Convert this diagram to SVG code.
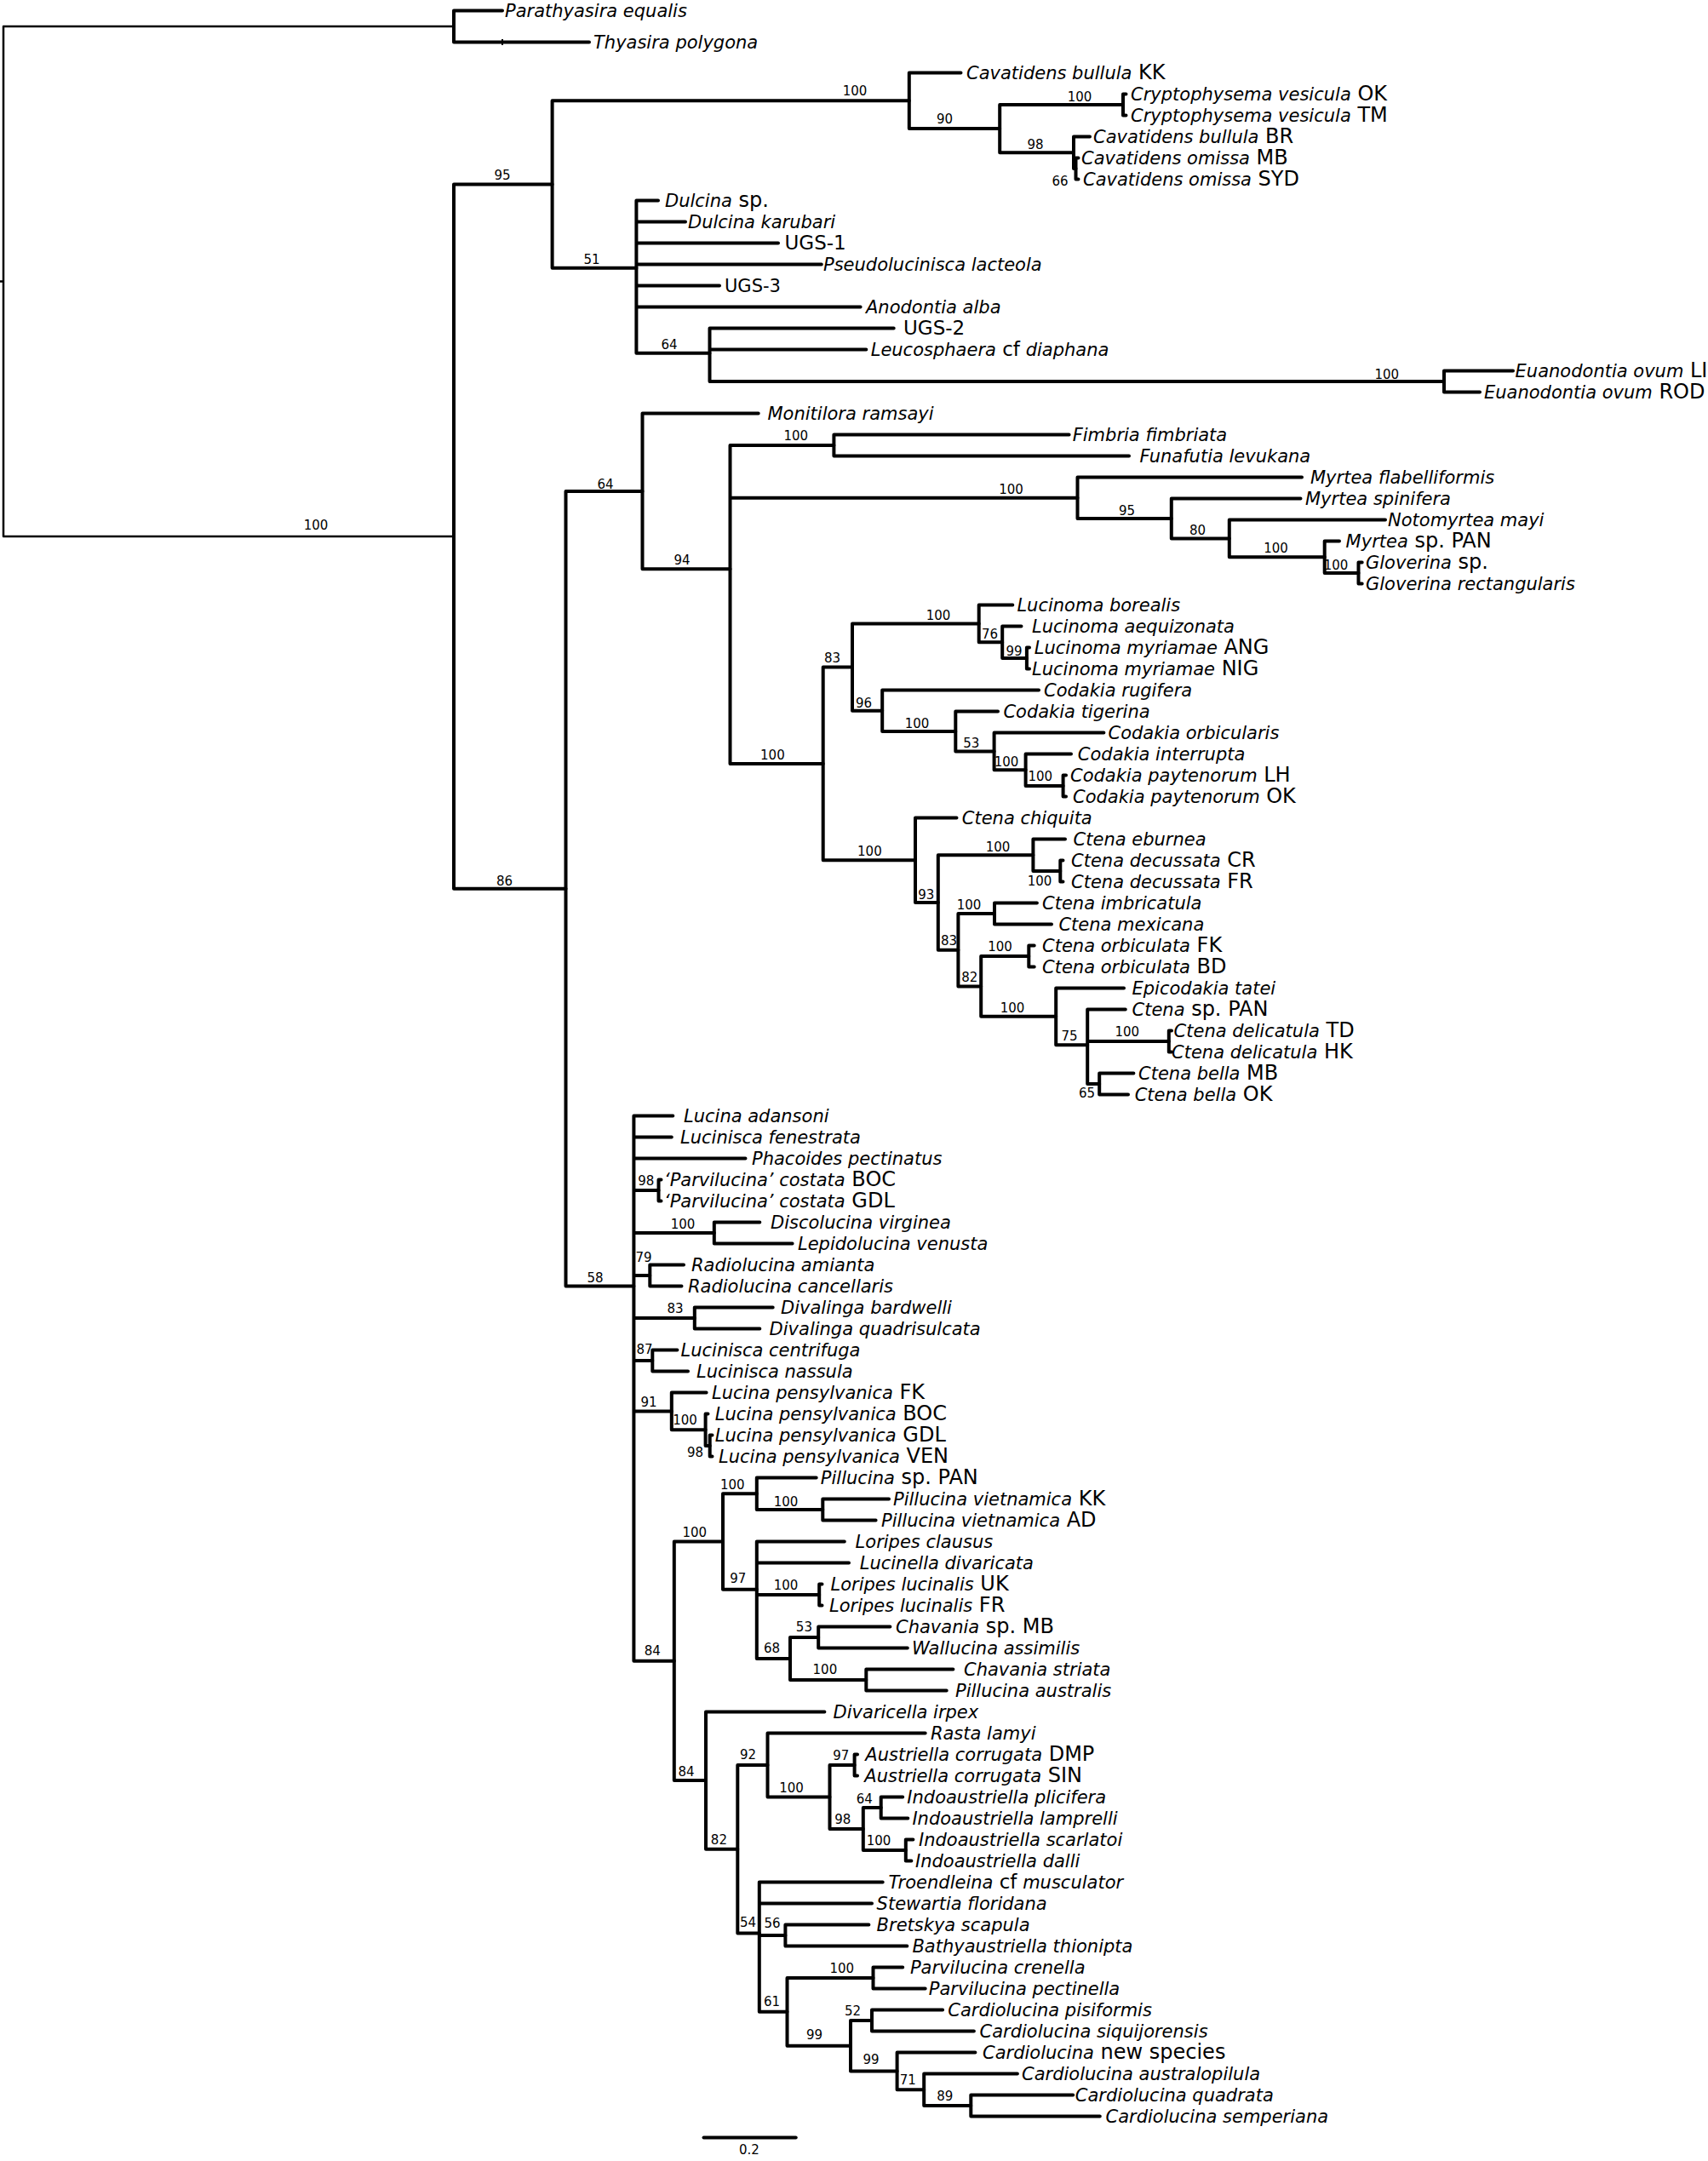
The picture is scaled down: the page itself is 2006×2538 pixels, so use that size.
<svg xmlns="http://www.w3.org/2000/svg" width="2006" height="2538" viewBox="0 0 2006 2538">
<style>
.b{fill:none;stroke:#000;stroke-width:4;stroke-linecap:round;stroke-linejoin:round}
.thin{stroke-width:2.5}
.tk{fill:none;stroke:#000;stroke-width:2}
text{font-family:"DejaVu Sans","Noto Sans",sans-serif;fill:#000}
.t{font-size:21px;font-style:italic}
.c{font-size:24px;font-style:normal}
.u{font-size:23px;font-style:normal}
.u3{font-size:21px;font-style:normal}
.s{font-size:15px;text-anchor:middle}
</style>
<rect width="2006" height="2538" fill="#fff"/>
<g id="connectors" class="b">
<path class="thin" d="M4 31V630.1M4 31H533M4 630.1H533M0 330.5H4"/>
<path d="M533 12.5V49.5M533 12.5H590M533 49.5H692"/>
<path d="M533 216.5V1043.7M533 216.5H648.6M533 1043.7H664.5"/>
<path d="M648.6 118.3V314.7M648.6 118.3H1067.8M648.6 314.7H747.4"/>
<path d="M1067.8 85.5V151.1M1067.8 85.5H1128.5M1067.8 151.1H1174.2"/>
<path d="M1174.2 123V179.3M1174.2 123H1319M1174.2 179.3H1261"/>
<path d="M1319 110.5V135.5M1319 110.5H1322.5M1319 135.5H1322.5"/>
<path d="M1261 160.5V198M1261 160.5H1280M1261 198H1263.5"/>
<path d="M1263.5 185.5V210.5M1263.5 185.5H1266.5M1263.5 210.5H1266.5"/>
<path d="M747.4 235.5V414.7M747.4 235.5H773M747.4 260.5H805M747.4 285.5H914M747.4 310.5H964.8M747.4 335.5H845M747.4 360.5H1010.6M747.4 414.7H833.5"/>
<path d="M833.5 385.5V448M833.5 385.5H1049.7M833.5 410.5H1017.3M833.5 448H1696"/>
<path d="M1696 435.5V460.5M1696 435.5H1777M1696 460.5H1738"/>
<path d="M664.5 576.9V1510.5M664.5 576.9H754.5M664.5 1510.5H744.4"/>
<path d="M754.5 485.5V668.2M754.5 485.5H890.7M754.5 668.2H857.5"/>
<path d="M857.5 523V896.9M857.5 523H979.4M857.5 584.7H1265.5M857.5 896.9H966.7"/>
<path d="M979.4 510.5V535.5M979.4 510.5H1255.6M979.4 535.5H1326"/>
<path d="M1265.5 560.5V608.9M1265.5 560.5H1529M1265.5 608.9H1375.8"/>
<path d="M1375.8 585.5V632.4M1375.8 585.5H1527.5M1375.8 632.4H1443.8"/>
<path d="M1443.8 610.5V654.3M1443.8 610.5H1627M1443.8 654.3H1555.7"/>
<path d="M1555.7 635.5V673M1555.7 635.5H1573M1555.7 673H1595.5"/>
<path d="M1595.5 660.5V685.5M1595.5 660.5H1599.7M1595.5 685.5H1599.7"/>
<path d="M966.7 783.5V1010.2M966.7 783.5H1001M966.7 1010.2H1075"/>
<path d="M1001 732.4V834.7M1001 732.4H1149.7M1001 834.7H1036.2"/>
<path d="M1149.7 710.5V754.3M1149.7 710.5H1189.3M1149.7 754.3H1177.2"/>
<path d="M1177.2 735.5V773M1177.2 735.5H1199.5M1177.2 773H1205.9"/>
<path d="M1205.9 760.5V785.5M1205.9 760.5H1209M1205.9 785.5H1209"/>
<path d="M1036.2 810.5V858.9M1036.2 810.5H1220M1036.2 858.9H1122.3"/>
<path d="M1122.3 835.5V882.4M1122.3 835.5H1172M1122.3 882.4H1167.6"/>
<path d="M1167.6 860.5V904.3M1167.6 860.5H1296.4M1167.6 904.3H1204.6"/>
<path d="M1204.6 885.5V923M1204.6 885.5H1258M1204.6 923H1248.6"/>
<path d="M1248.6 910.5V935.5M1248.6 910.5H1252M1248.6 935.5H1252"/>
<path d="M1075 960.5V1060M1075 960.5H1123.5M1075 1060H1101.8"/>
<path d="M1101.8 1004.3V1115.7M1101.8 1004.3H1213.4M1101.8 1115.7H1125.4"/>
<path d="M1213.4 985.5V1023M1213.4 985.5H1251M1213.4 1023H1245.3"/>
<path d="M1245.3 1010.5V1035.5M1245.3 1010.5H1248.5M1245.3 1035.5H1248.5"/>
<path d="M1125.4 1073V1158.4M1125.4 1073H1168M1125.4 1158.4H1152.2"/>
<path d="M1168 1060.5V1085.5M1168 1060.5H1217.9M1168 1085.5H1235"/>
<path d="M1152.2 1123V1193.8M1152.2 1123H1208.3M1152.2 1193.8H1240.2"/>
<path d="M1208.3 1110.5V1135.5M1208.3 1110.5H1214.7M1208.3 1135.5H1214.7"/>
<path d="M1240.2 1160.5V1227.2M1240.2 1160.5H1320M1240.2 1227.2H1277.2"/>
<path d="M1277.2 1185.5V1273M1277.2 1185.5H1321.8M1277.2 1223H1372.8M1277.2 1273H1291.2"/>
<path d="M1372.8 1210.5V1235.5M1372.8 1210.5H1376M1372.8 1235.5H1376"/>
<path d="M1291.2 1260.5V1285.5M1291.2 1260.5H1331.4M1291.2 1285.5H1325"/>
<path d="M744.4 1310.5V1950.8M744.4 1310.5H790.3M744.4 1335.5H788.8M744.4 1360.5H875.5M744.4 1398H773.5M744.4 1448H838.8M744.4 1498H763.3M744.4 1548H815.8M744.4 1598H766.3M744.4 1657.4H788.8M744.4 1950.8H791.8"/>
<path d="M773.5 1385.5V1410.5M773.5 1385.5H776.5M773.5 1410.5H776.5"/>
<path d="M838.8 1435.5V1460.5M838.8 1435.5H892.3M838.8 1460.5H930.6"/>
<path d="M763.3 1485.5V1510.5M763.3 1485.5H803M763.3 1510.5H800.5"/>
<path d="M815.8 1535.5V1560.5M815.8 1535.5H907.7M815.8 1560.5H892.3"/>
<path d="M766.3 1585.5V1610.5M766.3 1585.5H795.4M766.3 1610.5H808"/>
<path d="M788.8 1635.5V1679.3M788.8 1635.5H829.6M788.8 1679.3H828.6"/>
<path d="M828.6 1660.5V1698M828.6 1660.5H831.5M828.6 1698H833.7"/>
<path d="M833.7 1685.5V1710.5M833.7 1685.5H836.5M833.7 1710.5H836.5"/>
<path d="M791.8 1810.5V2091.1M791.8 1810.5H849M791.8 2091.1H829"/>
<path d="M849 1754.3V1866.8M849 1754.3H888.8M849 1866.8H888.8"/>
<path d="M888.8 1735.5V1773M888.8 1735.5H958.7M888.8 1773H966.3"/>
<path d="M966.3 1760.5V1785.5M966.3 1760.5H1044M966.3 1785.5H1028.6"/>
<path d="M888.8 1810.5V1948M888.8 1810.5H991.8M888.8 1835.5H997M888.8 1873H962.2M888.8 1948H928"/>
<path d="M962.2 1860.5V1885.5M962.2 1860.5H965.5M962.2 1885.5H965.5"/>
<path d="M928 1923V1973M928 1923H961.2M928 1973H1017.3"/>
<path d="M961.2 1910.5V1935.5M961.2 1910.5H1045.4M961.2 1935.5H1065.8"/>
<path d="M1017.3 1960.5V1985.5M1017.3 1960.5H1119.4M1017.3 1985.5H1111.7"/>
<path d="M829 2010.5V2171.8M829 2010.5H968.4M829 2171.8H866.3"/>
<path d="M866.3 2073V2270.5M866.3 2073H901.5M866.3 2270.5H891.8"/>
<path d="M901.5 2035.5V2110.5M901.5 2035.5H1086.7M901.5 2110.5H974.5"/>
<path d="M974.5 2073V2148M974.5 2073H1003.6M974.5 2148H1013.8"/>
<path d="M1003.6 2060.5V2085.5M1003.6 2060.5H1007M1003.6 2085.5H1007"/>
<path d="M1013.8 2123V2173M1013.8 2123H1034.7M1013.8 2173H1063.8"/>
<path d="M1034.7 2110.5V2135.5M1034.7 2110.5H1060.2M1034.7 2135.5H1066.3"/>
<path d="M1063.8 2160.5V2185.5M1063.8 2160.5H1072.4M1063.8 2185.5H1070.4"/>
<path d="M891.8 2210.5V2362.8M891.8 2210.5H1036.7M891.8 2235.5H1024M891.8 2273H922.4M891.8 2362.8H924.5"/>
<path d="M922.4 2260.5V2285.5M922.4 2260.5H1020.4M922.4 2285.5H1065.3"/>
<path d="M924.5 2323V2402.7M924.5 2323H1025.5M924.5 2402.7H999"/>
<path d="M1025.5 2310.5V2335.5M1025.5 2310.5H1060.2M1025.5 2335.5H1086.7"/>
<path d="M999 2373V2432.4M999 2373H1024M999 2432.4H1053.6"/>
<path d="M1024 2360.5V2385.5M1024 2360.5H1107.1M1024 2385.5H1143.9"/>
<path d="M1053.6 2410.5V2454.3M1053.6 2410.5H1145.4M1053.6 2454.3H1085.2"/>
<path d="M1085.2 2435.5V2473M1085.2 2435.5H1194.9M1085.2 2473H1140.3"/>
<path d="M1140.3 2460.5V2485.5M1140.3 2460.5H1260.2M1140.3 2485.5H1291.8"/>
<path d="M826.5 2510.5H934.7"/>
</g>
<path class="tk" d="M590 46V53"/>
<g id="taxa" class="t">
<g id="tip-o1"><text x="593" y="19.5">Parathyasira equalis</text></g>
<g id="tip-o2"><text x="697" y="56.5">Thyasira polygona</text></g>
<g id="tip-0"><text x="1135" y="92.5">Cavatidens bullula<tspan class="c"> KK</tspan></text></g>
<g id="tip-1"><text x="1328" y="117.5">Cryptophysema vesicula<tspan class="c"> OK</tspan></text></g>
<g id="tip-2"><text x="1328" y="142.5">Cryptophysema vesicula<tspan class="c"> TM</tspan></text></g>
<g id="tip-3"><text x="1284" y="167.5">Cavatidens bullula<tspan class="c"> BR</tspan></text></g>
<g id="tip-4"><text x="1270" y="192.5">Cavatidens omissa<tspan class="c"> MB</tspan></text></g>
<g id="tip-5"><text x="1272" y="217.5">Cavatidens omissa<tspan class="c"> SYD</tspan></text></g>
<g id="tip-6"><text x="781" y="242.5">Dulcina<tspan class="c"> sp.</tspan></text></g>
<g id="tip-7"><text x="808" y="267.5">Dulcina karubari</text></g>
<g id="tip-8"><text class="u" x="921.5" y="293">UGS-1</text></g>
<g id="tip-9"><text x="967" y="317.5">Pseudolucinisca lacteola</text></g>
<g id="tip-10"><text class="u3" x="851" y="343">UGS-3</text></g>
<g id="tip-11"><text x="1017" y="367.5">Anodontia alba</text></g>
<g id="tip-12"><text class="u" x="1061" y="393">UGS-2</text></g>
<g id="tip-13"><text x="1022.7" y="417.5">Leucosphaera<tspan class="u"> cf</tspan> diaphana</text></g>
<g id="tip-14"><text x="1779.6" y="442.5">Euanodontia ovum<tspan class="c"> LI</tspan></text></g>
<g id="tip-15"><text x="1743" y="467.5">Euanodontia ovum<tspan class="c"> ROD</tspan></text></g>
<g id="tip-16"><text x="901.5" y="492.5">Monitilora ramsayi</text></g>
<g id="tip-17"><text x="1259.7" y="517.5">Fimbria fimbriata</text></g>
<g id="tip-18"><text x="1338.5" y="542.5">Funafutia levukana</text></g>
<g id="tip-19"><text x="1539" y="567.5">Myrtea flabelliformis</text></g>
<g id="tip-20"><text x="1533" y="592.5">Myrtea spinifera</text></g>
<g id="tip-21"><text x="1630" y="617.5">Notomyrtea mayi</text></g>
<g id="tip-22"><text x="1580.6" y="642.5">Myrtea<tspan class="c"> sp. PAN</tspan></text></g>
<g id="tip-23"><text x="1604" y="667.5">Gloverina<tspan class="c"> sp.</tspan></text></g>
<g id="tip-24"><text x="1604" y="692.5">Gloverina rectangularis</text></g>
<g id="tip-25"><text x="1194.4" y="717.5">Lucinoma borealis</text></g>
<g id="tip-26"><text x="1212" y="742.5">Lucinoma aequizonata</text></g>
<g id="tip-27"><text x="1214.8" y="767.5">Lucinoma myriamae<tspan class="c"> ANG</tspan></text></g>
<g id="tip-28"><text x="1212" y="792.5">Lucinoma myriamae<tspan class="c"> NIG</tspan></text></g>
<g id="tip-29"><text x="1226" y="817.5">Codakia rugifera</text></g>
<g id="tip-30"><text x="1178.4" y="842.5">Codakia tigerina</text></g>
<g id="tip-31"><text x="1301.5" y="867.5">Codakia orbicularis</text></g>
<g id="tip-32"><text x="1265.8" y="892.5">Codakia interrupta</text></g>
<g id="tip-33"><text x="1257" y="917.5">Codakia paytenorum<tspan class="c"> LH</tspan></text></g>
<g id="tip-34"><text x="1260" y="942.5">Codakia paytenorum<tspan class="c"> OK</tspan></text></g>
<g id="tip-35"><text x="1129.8" y="967.5">Ctena chiquita</text></g>
<g id="tip-36"><text x="1260.6" y="992.5">Ctena eburnea</text></g>
<g id="tip-37"><text x="1258" y="1017.5">Ctena decussata<tspan class="c"> CR</tspan></text></g>
<g id="tip-38"><text x="1258" y="1042.5">Ctena decussata<tspan class="c"> FR</tspan></text></g>
<g id="tip-39"><text x="1224" y="1067.5">Ctena imbricatula</text></g>
<g id="tip-40"><text x="1243.4" y="1092.5">Ctena mexicana</text></g>
<g id="tip-41"><text x="1224" y="1117.5">Ctena orbiculata<tspan class="c"> FK</tspan></text></g>
<g id="tip-42"><text x="1224" y="1142.5">Ctena orbiculata<tspan class="c"> BD</tspan></text></g>
<g id="tip-43"><text x="1329.5" y="1167.5">Epicodakia tatei</text></g>
<g id="tip-44"><text x="1329.5" y="1192.5">Ctena<tspan class="c"> sp. PAN</tspan></text></g>
<g id="tip-45"><text x="1378.6" y="1217.5">Ctena delicatula<tspan class="c"> TD</tspan></text></g>
<g id="tip-46"><text x="1376" y="1242.5">Ctena delicatula<tspan class="c"> HK</tspan></text></g>
<g id="tip-47"><text x="1337" y="1267.5">Ctena bella<tspan class="c"> MB</tspan></text></g>
<g id="tip-48"><text x="1332.7" y="1292.5">Ctena bella<tspan class="c"> OK</tspan></text></g>
<g id="tip-49"><text x="803" y="1317.5">Lucina adansoni</text></g>
<g id="tip-50"><text x="799" y="1342.5">Lucinisca fenestrata</text></g>
<g id="tip-51"><text x="883" y="1367.5">Phacoides pectinatus</text></g>
<g id="tip-52"><text x="780" y="1392.5">‘Parvilucina’ costata<tspan class="c"> BOC</tspan></text></g>
<g id="tip-53"><text x="780" y="1417.5">‘Parvilucina’ costata<tspan class="c"> GDL</tspan></text></g>
<g id="tip-54"><text x="905" y="1442.5">Discolucina virginea</text></g>
<g id="tip-55"><text x="937" y="1467.5">Lepidolucina venusta</text></g>
<g id="tip-56"><text x="812" y="1492.5">Radiolucina amianta</text></g>
<g id="tip-57"><text x="808" y="1517.5">Radiolucina cancellaris</text></g>
<g id="tip-58"><text x="917" y="1542.5">Divalinga bardwelli</text></g>
<g id="tip-59"><text x="903.6" y="1567.5">Divalinga quadrisulcata</text></g>
<g id="tip-60"><text x="799.5" y="1592.5">Lucinisca centrifuga</text></g>
<g id="tip-61"><text x="818" y="1617.5">Lucinisca nassula</text></g>
<g id="tip-62"><text x="836" y="1642.5">Lucina pensylvanica<tspan class="c"> FK</tspan></text></g>
<g id="tip-63"><text x="839.8" y="1667.5">Lucina pensylvanica<tspan class="c"> BOC</tspan></text></g>
<g id="tip-64"><text x="839.8" y="1692.5">Lucina pensylvanica<tspan class="c"> GDL</tspan></text></g>
<g id="tip-65"><text x="844" y="1717.5">Lucina pensylvanica<tspan class="c"> VEN</tspan></text></g>
<g id="tip-66"><text x="963.8" y="1742.5">Pillucina<tspan class="c"> sp. PAN</tspan></text></g>
<g id="tip-67"><text x="1049" y="1767.5">Pillucina vietnamica<tspan class="c"> KK</tspan></text></g>
<g id="tip-68"><text x="1035" y="1792.5">Pillucina vietnamica<tspan class="c"> AD</tspan></text></g>
<g id="tip-69"><text x="1004.6" y="1817.5">Loripes clausus</text></g>
<g id="tip-70"><text x="1009.7" y="1842.5">Lucinella divaricata</text></g>
<g id="tip-71"><text x="975.5" y="1867.5">Loripes lucinalis<tspan class="c"> UK</tspan></text></g>
<g id="tip-72"><text x="974" y="1892.5">Loripes lucinalis<tspan class="c"> FR</tspan></text></g>
<g id="tip-73"><text x="1052" y="1917.5">Chavania<tspan class="c"> sp. MB</tspan></text></g>
<g id="tip-74"><text x="1071" y="1942.5">Wallucina assimilis</text></g>
<g id="tip-75"><text x="1132" y="1967.5">Chavania striata</text></g>
<g id="tip-76"><text x="1122" y="1992.5">Pillucina australis</text></g>
<g id="tip-77"><text x="978.6" y="2017.5">Divaricella irpex</text></g>
<g id="tip-78"><text x="1092.9" y="2042.5">Rasta lamyi</text></g>
<g id="tip-79"><text x="1016.3" y="2067.5">Austriella corrugata<tspan class="c"> DMP</tspan></text></g>
<g id="tip-80"><text x="1015.3" y="2092.5">Austriella corrugata<tspan class="c"> SIN</tspan></text></g>
<g id="tip-81"><text x="1065.3" y="2117.5">Indoaustriella plicifera</text></g>
<g id="tip-82"><text x="1071.4" y="2142.5">Indoaustriella lamprelli</text></g>
<g id="tip-83"><text x="1079" y="2167.5">Indoaustriella scarlatoi</text></g>
<g id="tip-84"><text x="1075" y="2192.5">Indoaustriella dalli</text></g>
<g id="tip-85"><text x="1043.4" y="2217.5">Troendleina<tspan class="u"> cf</tspan> musculator</text></g>
<g id="tip-86"><text x="1029.6" y="2242.5">Stewartia floridana</text></g>
<g id="tip-87"><text x="1029.6" y="2267.5">Bretskya scapula</text></g>
<g id="tip-88"><text x="1071.4" y="2292.5">Bathyaustriella thionipta</text></g>
<g id="tip-89"><text x="1068.9" y="2317.5">Parvilucina crenella</text></g>
<g id="tip-90"><text x="1090.8" y="2342.5">Parvilucina pectinella</text></g>
<g id="tip-91"><text x="1113.3" y="2367.5">Cardiolucina pisiformis</text></g>
<g id="tip-92"><text x="1150.5" y="2392.5">Cardiolucina siquijorensis</text></g>
<g id="tip-93"><text x="1154" y="2417.5">Cardiolucina<tspan class="c"> new species</tspan></text></g>
<g id="tip-94"><text x="1200" y="2442.5">Cardiolucina australopilula</text></g>
<g id="tip-95"><text x="1262.8" y="2467.5">Cardiolucina quadrata</text></g>
<g id="tip-96"><text x="1298.5" y="2492.5">Cardiolucina semperiana</text></g>
</g>
<g id="support" class="s">
<text x="371" y="622">100</text>
<text x="590" y="211">95</text>
<text x="592.5" y="1040">86</text>
<text x="1004" y="112">100</text>
<text x="1109.6" y="145">90</text>
<text x="1268" y="119">100</text>
<text x="1216" y="175">98</text>
<text x="1245" y="218">66</text>
<text x="695" y="310">51</text>
<text x="786" y="410">64</text>
<text x="1628.8" y="445">100</text>
<text x="711" y="573.5">64</text>
<text x="801" y="663">94</text>
<text x="934.7" y="517">100</text>
<text x="1187.6" y="580">100</text>
<text x="1323.6" y="605">95</text>
<text x="1406.5" y="628">80</text>
<text x="1498.5" y="649">100</text>
<text x="1569" y="669">100</text>
<text x="907.4" y="892">100</text>
<text x="977.5" y="778">83</text>
<text x="1102" y="728">100</text>
<text x="1162.5" y="750">76</text>
<text x="1191" y="770">99</text>
<text x="1014.5" y="831">96</text>
<text x="1077" y="855">100</text>
<text x="1140.8" y="878">53</text>
<text x="1182" y="900">100</text>
<text x="1221.8" y="917">100</text>
<text x="1021.4" y="1005">100</text>
<text x="1172" y="1000">100</text>
<text x="1221" y="1040">100</text>
<text x="1087.8" y="1056">93</text>
<text x="1114.5" y="1110">83</text>
<text x="1138" y="1068">100</text>
<text x="1138.8" y="1153">82</text>
<text x="1174.5" y="1117">100</text>
<text x="1189" y="1189">100</text>
<text x="1256" y="1222">75</text>
<text x="1323.7" y="1217">100</text>
<text x="1276.5" y="1289">65</text>
<text x="699" y="1506">58</text>
<text x="758.7" y="1392">98</text>
<text x="802" y="1443">100</text>
<text x="756" y="1482">79</text>
<text x="793" y="1542">83</text>
<text x="757" y="1590">87</text>
<text x="762" y="1652">91</text>
<text x="804.6" y="1673">100</text>
<text x="816.5" y="1711">98</text>
<text x="766.3" y="1944">84</text>
<text x="815.8" y="1805">100</text>
<text x="860.2" y="1749">100</text>
<text x="923" y="1769">100</text>
<text x="866.8" y="1859">97</text>
<text x="923" y="1867">100</text>
<text x="906.6" y="1941">68</text>
<text x="944.4" y="1916">53</text>
<text x="968.9" y="1966">100</text>
<text x="806" y="2086">84</text>
<text x="844.4" y="2166">82</text>
<text x="878.6" y="2066">92</text>
<text x="929.6" y="2105">100</text>
<text x="987.8" y="2067">97</text>
<text x="989.8" y="2142">98</text>
<text x="1015.3" y="2118">64</text>
<text x="1032" y="2167">100</text>
<text x="878.6" y="2263">54</text>
<text x="907" y="2264">56</text>
<text x="906.6" y="2356">61</text>
<text x="988.8" y="2317">100</text>
<text x="956.6" y="2395">99</text>
<text x="1001.5" y="2367">52</text>
<text x="1023" y="2424">99</text>
<text x="1066.3" y="2448">71</text>
<text x="1109.7" y="2467">89</text>
</g>
<g id="scale-bar"><text class="s" x="880" y="2530">0.2</text></g>
</svg>
